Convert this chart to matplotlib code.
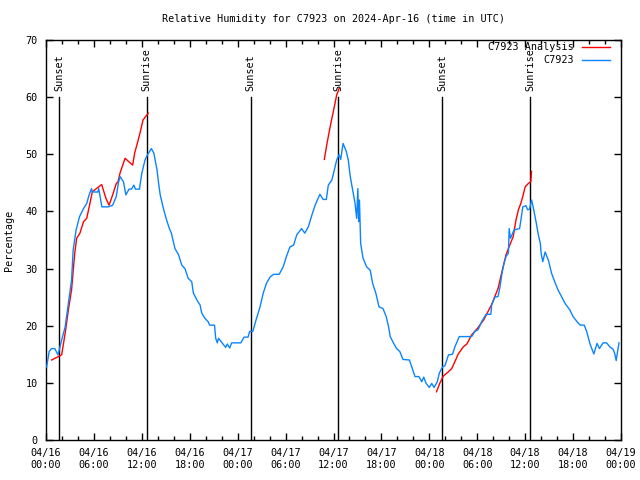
import numpy as np
import matplotlib
matplotlib.use("Agg")
import matplotlib.pyplot as plt
from matplotlib.ticker import MultipleLocator

plt.rcParams['font.family'] = ['DejaVu Sans Mono']

# ---- data (hours since 2024-04-16 00:00 UTC) ----
obs_hours = [0.08, 0.4, 0.7, 1.1, 1.5, 1.96, 2.4, 2.8, 3.2, 3.4, 3.76, 4.2, 4.7, 5.1, 5.4, 5.7, 5.8,
             6.5, 6.6, 7.0, 7.8, 8.35, 8.8, 9.05, 9.27, 9.7, 10.0, 10.4, 10.7, 11.0, 11.2, 11.7,
             12.0, 12.4, 12.7, 13.2, 13.5, 13.9, 14.1, 14.3, 14.7, 15.1, 15.45, 15.7, 16.15, 16.6,
             17.0, 17.4, 17.8, 18.25, 18.45, 18.9, 19.3, 19.5, 19.9, 20.3, 20.5, 21.1, 21.25, 21.45,
             21.6, 22.1, 22.5, 22.7, 23.0, 23.25, 24.4, 24.8, 25.3, 25.5, 25.9, 26.3, 26.8, 27.2,
             27.6, 28.05, 28.5, 29.2, 29.7, 30.1, 30.55, 31.0, 31.4, 32.0, 32.4, 32.85, 33.3, 33.7,
             34.3, 34.7, 35.1, 35.35, 35.8, 36.2, 36.4, 36.7, 36.9, 37.2, 37.6, 37.85, 38.1, 38.4,
             38.7, 38.9, 39.05, 39.15, 39.25, 39.4, 39.7, 40.15, 40.6, 40.9, 41.3, 41.7, 42.2, 42.6,
             42.9, 43.1, 43.5, 43.9, 44.3, 44.7, 45.5, 45.8, 46.2, 46.7, 47.05, 47.3, 47.6, 48.0,
             48.3, 48.6, 49.0, 49.25, 49.65, 49.95, 50.4, 50.9, 51.2, 51.75, 53.3, 53.7, 54.1, 54.55,
             55.1, 55.7, 55.8, 56.2, 56.6, 56.85, 57.1, 57.35, 57.6, 57.9, 58.0, 58.15, 58.35, 58.6,
             59.3, 59.5, 59.7, 60.1, 60.3, 60.55, 60.8, 61.0, 61.4, 61.65, 61.9, 62.0, 62.2, 62.5,
             62.9, 63.3, 63.7, 64.1, 64.55, 65.0, 65.6, 66.0, 66.5, 66.9, 67.4, 67.7, 68.1, 68.6,
             68.8, 69.0, 69.3, 69.75, 70.2, 70.6, 71.0, 71.2, 71.4, 71.6, 71.75]
obs_rh = [12.8, 15.5, 16.0, 16.0, 14.9, 17.5, 19.8, 23.9, 28.0, 33.2, 36.7, 39.1, 40.5, 41.4, 42.9, 44.0, 43.4,
          43.4, 44.0, 40.8, 40.8, 41.1, 42.6, 44.9, 46.1, 45.2, 42.9, 43.9, 43.9, 44.6, 43.9, 43.9,
          46.7, 49.0, 49.9, 51.0, 50.2, 47.3, 44.9, 42.9, 40.5, 38.5, 37.0, 36.2, 33.5, 32.4,
          30.6, 30.0, 28.3, 27.7, 25.7, 24.5, 23.6, 22.2, 21.3, 20.7, 20.1, 20.1, 17.8, 17.0,
          17.8, 16.9, 16.2, 16.8, 16.1, 17.0, 17.0, 18.0, 18.0, 19.0, 19.0, 21.0, 23.3, 25.7,
          27.4, 28.5, 29.0, 29.0, 30.3, 32.1, 33.8, 34.1, 35.9, 37.0, 36.2, 37.3, 39.4, 41.1,
          43.0, 42.1, 42.1, 44.6, 45.5, 47.8, 49.0, 49.9, 49.1, 51.9, 50.5, 49.0, 46.1, 43.7,
          41.4, 38.8, 44.0, 38.2, 42.0, 34.4, 31.8, 30.3, 29.7, 27.4, 25.7, 23.3, 23.0, 21.6,
          19.8, 18.1, 17.0, 16.0, 15.5, 14.1, 14.0, 12.8, 11.1, 11.1, 10.2, 11.0, 9.9, 9.2,
          9.9, 9.2, 10.2, 11.7, 12.8, 13.0, 14.9, 15.0, 16.3, 18.1, 18.1, 19.0, 19.3, 20.7,
          22.0, 22.0, 23.6, 25.0, 25.1, 26.8, 29.2, 30.9, 32.1, 32.7, 37.0, 35.3, 35.9, 36.75,
          37.0, 38.8, 40.8, 41.0, 40.3, 40.4, 42.0, 40.8, 37.9, 35.9, 34.4, 32.7, 31.2, 32.9,
          31.5, 29.2, 27.7, 26.3, 25.1, 23.9, 22.75, 21.6, 20.7, 20.1, 20.1, 19.0, 16.9, 15.05,
          16.0, 16.9, 16.0, 17.0, 17.0, 16.3, 15.9, 15.2, 13.9, 15.75, 17.0]

ana_hours = [0.7, 1.55, 1.96, 2.4, 2.8, 3.2, 3.6, 3.84, 4.25, 4.7, 5.1, 5.5, 5.8, 6.97, 7.5, 7.9,
             8.35, 8.8, 9.0, 9.27, 9.9, 10.85, 11.1, 11.55, 11.8, 12.15, 12.8,
             np.nan,
             34.85, 35.15, 35.5, 35.8, 36.1, 36.4, 36.7,
             np.nan,
             48.9, 49.3, 49.75, 50.4, 50.8, 51.2, 51.6, 52.25, 52.7, 53.3, 54.0, 54.8, 55.8, 56.6,
             57.1, 57.6, 57.9, 58.5, 58.85, 59.15, 59.45, 59.7, 60.0, 60.4, 60.7, 60.8]
ana_rh = [14.0, 14.6, 14.9, 18.7, 22.75, 26.25, 32.7, 35.3, 36.2, 38.2, 38.8, 41.4, 43.45, 44.7, 42.3, 41.1,
          42.9, 44.9, 45.1, 46.7, 49.3, 48.1, 50.2, 52.5, 53.9, 56.0, 57.2,
          np.nan,
          49.1, 51.6, 54.25, 56.3, 58.3, 60.4, 61.5,
          np.nan,
          8.45, 9.9, 11.2, 11.95, 12.5, 13.7, 15.0, 16.3, 16.8, 18.4, 19.5, 21.0, 23.7, 26.5,
          29.5, 32.4, 33.5, 35.6, 38.5, 40.25, 41.4, 42.6, 44.3, 44.9, 45.2, 47.0]

sun_hours = [1.67, 12.6, 25.63, 36.6, 49.63, 60.6]
sun_labels = ["Sunset", "Sunrise", "Sunset", "Sunrise", "Sunset", "Sunrise"]

xtick_hours = [0, 6, 12, 18, 24, 30, 36, 42, 48, 54, 60, 66, 72]
xtick_labels = ["04/16\n00:00", "04/16\n06:00", "04/16\n12:00", "04/16\n18:00",
                "04/17\n00:00", "04/17\n06:00", "04/17\n12:00", "04/17\n18:00",
                "04/18\n00:00", "04/18\n06:00", "04/18\n12:00", "04/18\n18:00",
                "04/19\n00:00"]

fs = 7.3
fig = plt.figure(figsize=(6.4, 4.8), dpi=100)
ax = fig.add_axes([46/640, 40/480, 575/640, 400/480])

for h, lab in zip(sun_hours, sun_labels):
    ax.plot([h, h], [0, 60], color='black', lw=1.0, zorder=1)
    ax.text(h, 61, lab, rotation=90, ha='center', va='bottom', fontsize=fs)

ax.plot(ana_hours, ana_rh, color='#ff0000', lw=1.0, label='C7923 Analysis', zorder=2)
ax.plot(obs_hours, obs_rh, color='#0a84ff', lw=1.0, label='C7923', zorder=3)

ax.set_xlim(0, 72)
ax.set_ylim(0, 70)
ax.set_xticks(xtick_hours)
ax.set_xticklabels(xtick_labels, fontsize=fs)
ax.xaxis.set_minor_locator(MultipleLocator(2))
ax.set_yticks(range(0, 71, 10))
ax.tick_params(axis='y', labelsize=fs)
ax.tick_params(which='major', direction='in', length=5, width=1, top=True, right=True, pad=6)
ax.tick_params(which='minor', direction='in', length=3, width=1, top=True, right=True)
for s in ax.spines.values():
    s.set_linewidth(1.0)

ax.set_ylabel('Percentage', fontsize=fs, labelpad=8)
ax.set_title('Relative Humidity for C7923 on 2024-Apr-16 (time in UTC)', fontsize=fs, pad=13)

leg = ax.legend(loc='upper right', bbox_to_anchor=(0.988, 1.005), frameon=False,
                markerfirst=False, fontsize=fs, handlelength=2.8, borderaxespad=0.0,
                labelspacing=0.3, handletextpad=0.8)

fig.savefig('out.png', dpi=100)
